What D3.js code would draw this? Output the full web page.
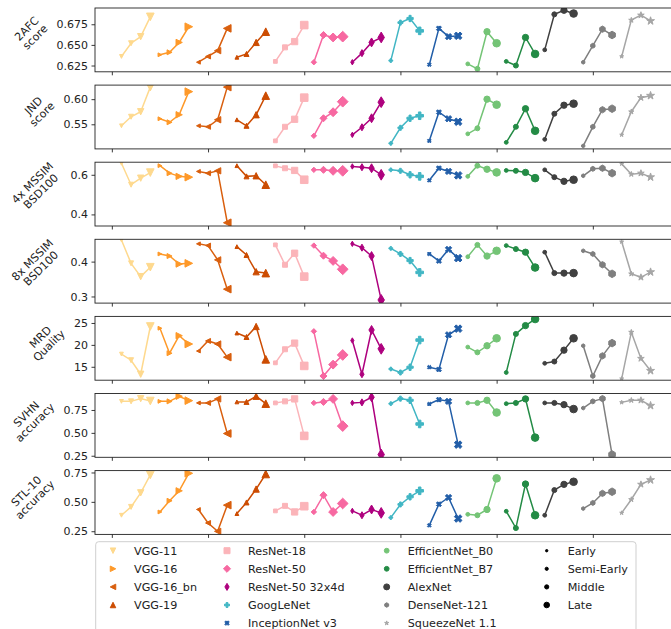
<!DOCTYPE html>
<html>
<head>
<meta charset="utf-8">
<script src="https://cdn.jsdelivr.net/npm/d3@7"></script>
<style>
  body { margin: 0; background: #fff; }
  svg { display: block; font-family: "DejaVu Sans", sans-serif; }
</style>
</head>
<body>
<svg id="chart" width="671" height="629"></svg>
<script>
'use strict';

// networks, in plotting order
var networks = ["VGG-11", "VGG-16", "VGG-16_bn", "VGG-19", "ResNet-18", "ResNet-50",
  "ResNet-50 32x4d", "GoogLeNet", "InceptionNet v3", "EfficientNet_B0", "EfficientNet_B7",
  "AlexNet", "DenseNet-121", "SqueezeNet 1.1"];
var colors = ["#fed98e", "#fe9929", "#d95f0e", "#cc4c02", "#fbb4b9", "#f768a1", "#ae017e",
  "#41b6c4", "#225ea8", "#74c476", "#238b45", "#404040", "#7f7f7f", "#a6a6a6"];
var markers = ["v", ">", "<", "^", "s", "D", "d", "P", "X", "o", "o", "o", "h", "*"];
var stages = ["Early", "Semi-Early", "Middle", "Late"];

// one row of 4 values (Early..Late) per network
var afc2 = [
  [0.636, 0.652, 0.660, 0.684], [0.638, 0.641, 0.653, 0.672], [0.629, 0.636, 0.643, 0.670],
  [0.635, 0.639, 0.653, 0.666], [0.630, 0.647, 0.654, 0.674], [0.629, 0.662, 0.659, 0.660],
  [0.629, 0.640, 0.653, 0.659], [0.631, 0.677, 0.682, 0.667], [0.626, 0.670, 0.660, 0.661],
  [0.627, 0.621, 0.666, 0.652], [0.630, 0.625, 0.659, 0.639], [0.644, 0.687, 0.692, 0.688],
  [0.629, 0.649, 0.669, 0.662], [0.636, 0.680, 0.686, 0.679]];
var jnd = [
  [0.547, 0.565, 0.575, 0.624], [0.561, 0.554, 0.569, 0.615], [0.547, 0.545, 0.559, 0.624],
  [0.559, 0.547, 0.569, 0.607], [0.517, 0.545, 0.560, 0.603], [0.527, 0.562, 0.574, 0.595],
  [0.529, 0.544, 0.562, 0.594], [0.512, 0.543, 0.562, 0.567], [0.517, 0.574, 0.561, 0.555],
  [0.531, 0.542, 0.600, 0.589], [0.514, 0.545, 0.581, 0.537], [0.520, 0.571, 0.588, 0.591],
  [0.507, 0.545, 0.579, 0.581], [0.529, 0.575, 0.603, 0.607]];
var mssim4 = [
  [0.658, 0.550, 0.583, 0.611], [0.646, 0.608, 0.592, 0.588], [0.617, 0.608, 0.620, 0.358],
  [0.646, 0.592, 0.595, 0.550], [0.645, 0.633, 0.622, 0.575], [0.625, 0.625, 0.620, 0.620],
  [0.642, 0.638, 0.633, 0.600], [0.625, 0.620, 0.600, 0.592], [0.572, 0.633, 0.617, 0.597],
  [0.592, 0.646, 0.628, 0.612], [0.622, 0.620, 0.612, 0.583], [0.625, 0.588, 0.567, 0.575],
  [0.595, 0.630, 0.633, 0.608], [0.655, 0.603, 0.608, 0.588]];
var mssim8 = [
  [0.462, 0.395, 0.357, 0.384], [0.422, 0.416, 0.393, 0.395], [0.451, 0.446, 0.405, 0.321],
  [0.443, 0.419, 0.371, 0.367], [0.448, 0.391, 0.424, 0.357], [0.446, 0.417, 0.402, 0.378],
  [0.451, 0.440, 0.416, 0.290], [0.438, 0.422, 0.403, 0.369], [0.422, 0.402, 0.435, 0.410],
  [0.414, 0.448, 0.416, 0.431], [0.446, 0.436, 0.427, 0.383], [0.427, 0.367, 0.367, 0.367],
  [0.431, 0.422, 0.391, 0.365], [0.457, 0.365, 0.355, 0.370]];
var mrd = [
  [17.9, 16.5, 13.3, 24.2], [23.8, 18.1, 22.1, 20.2], [18.6, 20.9, 20.2, 17.2],
  [22.7, 21.8, 24.2, 16.7], [15.9, 19.0, 20.4, 15.2], [23.1, 12.9, 15.5, 17.7],
  [21.0, 13.3, 23.4, 19.1], [14.5, 13.7, 14.9, 21.1], [14.9, 14.4, 22.3, 23.7],
  [19.5, 18.3, 19.8, 21.5], [13.7, 22.5, 24.4, 25.9], [15.8, 16.2, 18.8, 21.5],
  [19.8, 12.9, 17.5, 20.4], [12.3, 22.9, 16.9, 14.1]];
var svhn = [
  [0.844, 0.844, 0.874, 0.848], [0.844, 0.844, 0.900, 0.852], [0.827, 0.827, 0.871, 0.493],
  [0.838, 0.838, 0.900, 0.819], [0.827, 0.844, 0.871, 0.467], [0.827, 0.838, 0.871, 0.574],
  [0.827, 0.833, 0.889, 0.263], [0.819, 0.874, 0.856, 0.597], [0.815, 0.863, 0.844, 0.371],
  [0.827, 0.827, 0.856, 0.722], [0.819, 0.827, 0.871, 0.448], [0.827, 0.827, 0.808, 0.760],
  [0.771, 0.844, 0.874, 0.263], [0.833, 0.856, 0.856, 0.797]];
var stl = [
  [0.386, 0.457, 0.577, 0.729], [0.414, 0.509, 0.594, 0.743], [0.435, 0.320, 0.249, 0.472],
  [0.400, 0.495, 0.609, 0.737], [0.423, 0.466, 0.414, 0.463], [0.414, 0.557, 0.414, 0.486],
  [0.423, 0.386, 0.435, 0.406], [0.366, 0.478, 0.543, 0.594], [0.300, 0.480, 0.537, 0.358],
  [0.394, 0.386, 0.435, 0.700], [0.420, 0.277, 0.652, 0.386], [0.386, 0.600, 0.649, 0.671],
  [0.443, 0.491, 0.572, 0.586], [0.406, 0.520, 0.649, 0.686]];

var metricLabels = [["2AFC", "score"], ["JND", "score"], ["4x MSSIM", "BSD100"],
  ["8x MSSIM", "BSD100"], ["MRD", "Quality"], ["SVHN", "accuracy"], ["STL-10", "accuracy"]];
var metricData = [afc2, jnd, mssim4, mssim8, mrd, svhn, stl];
var yDomains = [[0.6174, 0.6947], [0.501, 0.628], [0.3415, 0.6635], [0.281, 0.464],
  [11.94, 26.5], [0.233, 0.93], [0.223, 0.766]];
var yTicks = [[0.625, 0.650, 0.675], [0.55, 0.60], [0.4, 0.6], [0.3, 0.4],
  [15, 20, 25], [0.25, 0.50, 0.75], [0.25, 0.50, 0.75]];
var yFormats = [".3f", ".2f", ".1f", ".1f", "d", ".2f", ".2f"];
var xTicks = [0, 10, 20, 30, 40, 50];

// layout
var left = 95, panelTop = 8, panelH = 63.8, panelStep = 77.1;
var stageSize = [3.8, 5, 6.3, 7.6];      // marker size per stage (px)
var legendStageSize = [2.4, 3.2, 4.2, 5.6];
var legendNetSize = [5.5, 5.5, 5.5, 5.5, 6, 5, 5, 5, 4.5, 4.8, 4.8, 6, 4.5, 4];

var svg = d3.select("#chart");

var x = d3.scaleLinear().domain([-1.75, 58.75]).range([left, left + 60.5 * 9.62]);

function poly(pts) { return d3.line()(pts) + "Z"; }

function markerPath(kind, ms) {
  var r = ms / 2, p, a, i;
  switch (kind) {
    case "^": return poly([[0, -r], [-r, r], [r, r]]);
    case "v": return poly([[0, r], [-r, -r], [r, -r]]);
    case ">": return poly([[r, 0], [-r, -r], [-r, r]]);
    case "<": return poly([[-r, 0], [r, -r], [r, r]]);
    case "s": return poly([[-r, -r], [r, -r], [r, r], [-r, r]]);
    case "D": a = r * 1.414; return poly([[0, -a], [a, 0], [0, a], [-a, 0]]);
    case "d": a = r * 1.414; return poly([[0, -a], [a * 0.6, 0], [0, a], [-a * 0.6, 0]]);
    case "P":
    case "X":
      var u = r / 3;
      p = [[-u, -3 * u], [u, -3 * u], [u, -u], [3 * u, -u], [3 * u, u], [u, u], [u, 3 * u],
        [-u, 3 * u], [-u, u], [-3 * u, u], [-3 * u, -u], [-u, -u]];
      if (kind === "X") {
        p = p.map(function (q) {
          return [(q[0] - q[1]) * 0.75, (q[0] + q[1]) * 0.75];
        });
      }
      return poly(p);
    case "h":
      p = [];
      for (i = 0; i < 6; i++) {
        a = -Math.PI / 2 + i * Math.PI / 3;
        p.push([r * Math.cos(a), r * Math.sin(a)]);
      }
      return poly(p);
    case "*":
      p = [];
      for (i = 0; i < 10; i++) {
        a = -Math.PI / 2 + i * Math.PI / 5;
        var rr = (i % 2 === 0) ? r * 1.1 : r * 1.1 * 0.382;
        p.push([rr * Math.cos(a), rr * Math.sin(a)]);
      }
      return poly(p);
    default:
      var path = d3.path();
      path.arc(0, 0, r, 0, 2 * Math.PI);
      return path.toString();
  }
}

var defs = svg.append("defs");

metricData.forEach(function (data, m) {
  var top = panelTop + m * panelStep;
  var y = d3.scaleLinear().domain(yDomains[m]).range([top + panelH, top]);
  var g = svg.append("g").attr("class", "panel");

  defs.append("clipPath").attr("id", "clip" + m)
    .append("rect").attr("x", x.range()[0]).attr("y", top)
    .attr("width", x.range()[1] - x.range()[0]).attr("height", panelH);

  var plot = g.append("g").attr("clip-path", "url(#clip" + m + ")");

  var line = d3.line()
    .x(function (d) { return x(d.pos); })
    .y(function (d) { return y(d.v); });

  data.forEach(function (vals, n) {
    var pts = vals.map(function (v, s) { return { pos: n * 4 + s + 1, v: v, s: s }; });
    plot.append("path").datum(pts)
      .attr("d", line)
      .attr("fill", "none")
      .attr("stroke", colors[n])
      .attr("stroke-width", 1.5);
    plot.selectAll(null).data(pts).enter().append("path")
      .attr("transform", function (d) { return "translate(" + x(d.pos) + "," + y(d.v) + ")"; })
      .attr("d", function (d) { return markerPath(markers[n], stageSize[d.s]); })
      .attr("fill", colors[n])
      .attr("stroke", colors[n])
      .attr("stroke-width", 1)
      .attr("stroke-linejoin", "round");
  });

  // frame
  g.append("rect")
    .attr("x", x.range()[0]).attr("y", top)
    .attr("width", x.range()[1] - x.range()[0]).attr("height", panelH)
    .attr("fill", "none").attr("stroke", "#222").attr("stroke-width", 0.9);

  var yAxis = g.append("g")
    .attr("transform", "translate(" + left + ",0)")
    .call(d3.axisLeft(y).tickValues(yTicks[m]).tickFormat(d3.format(yFormats[m]))
      .tickSize(3.5).tickPadding(3.5));
  yAxis.select(".domain").remove();
  yAxis.selectAll("line").attr("stroke", "#222").attr("stroke-width", 0.9);
  yAxis.selectAll("text").attr("font-size", 11).attr("fill", "#222")
    .attr("font-family", "DejaVu Sans");

  var xAxis = g.append("g")
    .attr("transform", "translate(0," + (top + panelH) + ")")
    .call(d3.axisBottom(x).tickValues(xTicks).tickFormat("").tickSize(3.5));
  xAxis.select(".domain").remove();
  xAxis.selectAll("line").attr("stroke", "#222").attr("stroke-width", 0.9);

  // rotated two-line label, anchored bottom-centre like matplotlib
  var tickLeft = left + yAxis.node().getBBox().x;
  var lab = g.append("g");
  var t = lab.append("text")
    .attr("text-anchor", "middle")
    .attr("font-size", 11)
    .attr("fill", "#222");
  t.append("tspan").attr("x", 0).attr("y", -15).text(metricLabels[m][0]);
  t.append("tspan").attr("x", 0).attr("y", -3).text(metricLabels[m][1]);
  var cy = top + panelH / 2 + 2;
  lab.attr("transform", "translate(0," + cy + ") rotate(-45)");
  var bb = lab.node().getBoundingClientRect();
  var shift = (tickLeft - 6) - bb.right;
  lab.attr("transform", "translate(" + shift + "," + cy + ") rotate(-45)");
});

// legend
var lg = svg.append("g");
lg.append("rect")
  .attr("x", 95.7).attr("y", 541.7).attr("width", 540.3).attr("height", 110)
  .attr("rx", 3).attr("fill", "#fff").attr("stroke", "#cfcfcf").attr("stroke-width", 1);

var colX = [113, 227, 386.7, 546.7];
var rowY0 = 550.7, rowStep = 18.1;
var legendItems = [];
networks.forEach(function (name, n) {
  var col = n < 4 ? 0 : (n < 9 ? 1 : 2);
  var row = n < 4 ? n : (n < 9 ? n - 4 : n - 9);
  legendItems.push({ name: name, col: col, row: row, kind: markers[n],
    color: colors[n], size: legendNetSize[n] });
});
stages.forEach(function (name, s) {
  legendItems.push({ name: name, col: 3, row: s, kind: "o", color: "#000",
    size: legendStageSize[s] });
});

var li = lg.selectAll("g.item").data(legendItems).enter().append("g")
  .attr("class", "item")
  .attr("transform", function (d) {
    return "translate(" + colX[d.col] + "," + (rowY0 + d.row * rowStep) + ")";
  });
li.append("path")
  .attr("d", function (d) { return markerPath(d.kind, d.size); })
  .attr("fill", function (d) { return d.color; })
  .attr("stroke", function (d) { return d.color; })
  .attr("stroke-width", 1);
li.append("text")
  .attr("x", 21).attr("y", 4)
  .attr("font-size", 11.2)
  .attr("fill", "#222")
  .text(function (d) { return d.name; });
</script>
</body>
</html>
